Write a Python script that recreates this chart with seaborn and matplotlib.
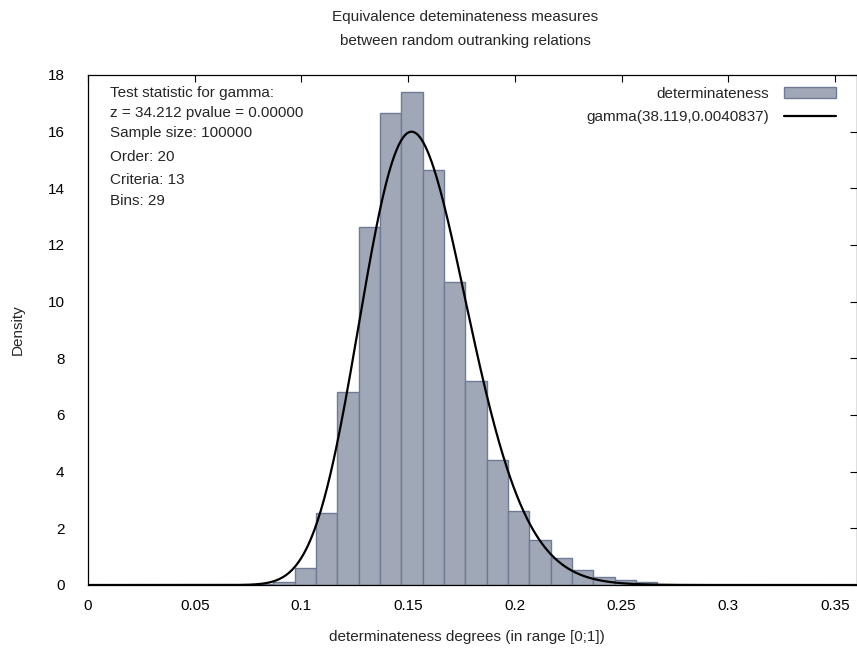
import numpy as np
import matplotlib
matplotlib.use("Agg")
import matplotlib.pyplot as plt
import seaborn as sns
from math import lgamma

# histogram bins (left edges, width 0.01) and bar densities
bin_left = [0.0768, 0.0868, 0.0968, 0.1068, 0.1168, 0.1268, 0.1368, 0.1468, 0.1568,
            0.1668, 0.1768, 0.1868, 0.1968, 0.2068, 0.2168, 0.2268, 0.2368, 0.2468, 0.2568]
density = [0.02, 0.12, 0.59, 2.55, 6.82, 12.65, 16.65, 17.39, 14.65,
           10.68, 7.21, 4.41, 2.61, 1.60, 0.94, 0.53, 0.29, 0.17, 0.1]
bin_width = 0.01

# fitted gamma parameters from the legend
gamma_shape = 38.119
gamma_scale = 0.0040837

info_lines = ["Test statistic for gamma:", "z = 34.212 pvalue = 0.00000",
              "Sample size: 100000", "Order: 20", "Criteria: 13", "Bins: 29"]
xtick_vals = [0, 0.05, 0.1, 0.15, 0.2, 0.25, 0.3, 0.35]
xtick_labels = ["0", "0.05", "0.1", "0.15", "0.2", "0.25", "0.3", "0.35"]
ytick_vals = [0, 2, 4, 6, 8, 10, 12, 14, 16, 18]

sns.set_style("white")
plt.rcParams["font.family"] = ["Liberation Sans", "DejaVu Sans"]
fs = 11
plt.rcParams["font.size"] = fs

fig = plt.figure(figsize=(8.57, 6.55), dpi=100)
ax = fig.add_axes([88 / 857, 1 - 585 / 655, 1 - 88 / 857, (585 - 75) / 655])

edges = list(bin_left) + [bin_left[-1] + bin_width]
centers = [b + bin_width / 2 for b in bin_left]
sns.histplot(x=centers, weights=density, bins=edges, stat="count", ax=ax,
             color="#a0a7b7", edgecolor="#6f7b96", linewidth=1.0, alpha=1.0,
             label="determinateness")

xs = np.linspace(0.0, 0.36, 721)
pdf = np.zeros_like(xs)
pos = xs > 0
k, th = gamma_shape, gamma_scale
pdf[pos] = np.exp((k - 1) * np.log(xs[pos]) - xs[pos] / th - lgamma(k) - k * np.log(th))
sns.lineplot(x=xs, y=pdf, ax=ax, color="black", linewidth=1.6,
             label="gamma(38.119,0.0040837)")

ax.set_xlim(0, 0.3603)
ax.set_ylim(0, 18)
ax.set_xticks(xtick_vals)
ax.set_xticklabels(xtick_labels)
ax.set_yticks(ytick_vals)
ax.tick_params(direction="in", length=5, width=0.8, top=True, right=True,
               labelsize=fs, colors="black")
ax.tick_params(axis="x", pad=10)
ax.tick_params(axis="y", pad=17)
for s in ax.spines.values():
    s.set_color("black")
    s.set_linewidth(0.9)
ax.set_xlabel("")
ax.set_ylabel("")

fig.text(18 / 857, 1 - 330 / 655, "Density", rotation=90, ha="center", va="center", fontsize=fs)
fig.text(467 / 857, 1 - 637 / 655, "determinateness degrees (in range [0;1])",
         ha="center", va="center", fontsize=fs)
fig.text(465 / 857, 1 - 17 / 655, "Equivalence deteminateness measures",
         ha="center", va="center", fontsize=fs)
fig.text(465 / 857, 1 - 41 / 655, "between random outranking relations",
         ha="center", va="center", fontsize=fs)

line_y = [93, 113, 133, 157, 180, 201]
for t, yy in zip(info_lines, line_y):
    fig.text(110 / 857, 1 - yy / 655, t, ha="left", va="center", fontsize=fs)

handles, labels = ax.get_legend_handles_labels()
order = [labels.index("determinateness"), labels.index("gamma(38.119,0.0040837)")]
ax.legend([handles[i] for i in order], [labels[i] for i in order],
          loc="upper right", bbox_to_anchor=(836 / 857, 1 - 87 / 655),
          bbox_transform=fig.transFigure, frameon=False, markerfirst=False,
          handlelength=3.4, handletextpad=1.0, borderaxespad=0, borderpad=0,
          labelspacing=0.6, fontsize=fs)

fig.savefig("out.png", dpi=100)
